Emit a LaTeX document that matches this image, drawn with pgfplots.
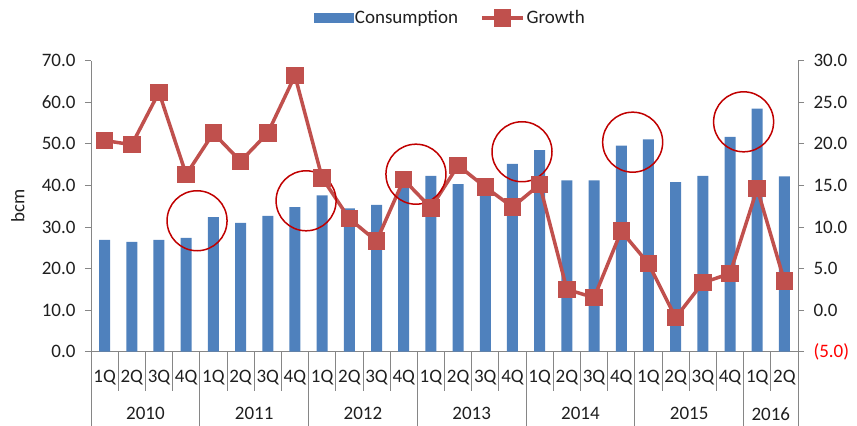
\documentclass[border=0pt]{standalone}
\usepackage{pgfplots}
\pgfplotsset{compat=1.18}
\usepackage{fontspec}
\setmainfont{Carlito}
\definecolor{barblue}{HTML}{4F81BD}
\definecolor{linered}{HTML}{C0504D}
\definecolor{circred}{HTML}{C00000}
\definecolor{axgray}{HTML}{868686}
\definecolor{txt}{HTML}{1F1F1F}
\newcommand\lbl{\fontsize{19bp}{21bp}\selectfont}
\pgfplotsset{
  growthlegend/.style={legend image code/.code={%
    \draw[mark repeat=2,mark phase=2,##1] plot coordinates {(0bp,0bp) (20.5bp,0bp) (41bp,0bp)};}},
  common/.style={
    at={(0bp,0bp)}, anchor=south west,
    scale only axis, width=707bp, height=291bp,
    xmin=-0.5, xmax=25.5,
    axis line style={axgray, line width=0.8bp, -},
    tick align=outside, major tick length=6bp,
    tick label style={font=\lbl, text=txt},
    label style={font=\lbl, text=txt},
  }
}

\begin{document}
\begin{tikzpicture}
\useasboundingbox (-91bp,-74.3bp) rectangle (766bp,351.7bp);

% consumption, left axis
\begin{axis}[
  common,
  clip=false,
  ymin=0, ymax=70,
  axis x line*=bottom, axis y line*=left,
  ybar, bar width=11bp,
  xtick={0,...,25},
  xticklabels={1Q,2Q,3Q,4Q,1Q,2Q,3Q,4Q,1Q,2Q,3Q,4Q,1Q,2Q,3Q,4Q,1Q,2Q,3Q,4Q,1Q,2Q,3Q,4Q,1Q,2Q},
  xtick style={draw=none},
  xticklabel style={anchor=center, yshift=-20bp},
  ytick={0,10,...,70},
  yticklabels={0.0,10.0,20.0,30.0,40.0,50.0,60.0,70.0},
  ytick style={axgray, line width=0.8bp},
  yticklabel style={xshift=-6bp},
  ylabel={bcm},
  every axis y label/.style={at={(axis description cs:-0.1033,0.5)}, rotate=90,
    anchor=center, font=\lbl, text=txt},
]
\addplot[fill=barblue, draw=none] coordinates {
  (0,26.9) (1,26.4) (2,26.9) (3,27.4) (4,32.4) (5,31.0) (6,32.7) (7,34.8)
  (8,37.6) (9,34.5) (10,35.3) (11,40.0) (12,42.3) (13,40.3) (14,40.2) (15,45.2)
  (16,48.5) (17,41.2) (18,41.2) (19,49.6) (20,51.1) (21,40.8) (22,42.3) (23,51.7)
  (24,58.5) (25,42.2)};

\pgfplotsinvokeforeach{0.5,1.5,2.5,4.5,5.5,6.5,8.5,9.5,10.5,12.5,13.5,14.5,16.5,17.5,18.5,20.5,21.5,22.5,24.5}{
  \draw[axgray, line width=0.8bp] (axis cs:#1,0) -- ++(0bp,-39bp);}
\pgfplotsinvokeforeach{-0.5,3.5,7.5,11.5,15.5,19.5,23.5,25.5}{
  \draw[axgray, line width=0.8bp] (axis cs:#1,0) -- ++(0bp,-74.3bp);}

\node[font=\lbl, text=txt, yshift=-62bp] at (axis cs:1.5,0) {2010};
\node[font=\lbl, text=txt, yshift=-62bp] at (axis cs:5.5,0) {2011};
\node[font=\lbl, text=txt, yshift=-62bp] at (axis cs:9.5,0) {2012};
\node[font=\lbl, text=txt, yshift=-62bp] at (axis cs:13.5,0) {2013};
\node[font=\lbl, text=txt, yshift=-62bp] at (axis cs:17.5,0) {2014};
\node[font=\lbl, text=txt, yshift=-62bp] at (axis cs:21.5,0) {2015};
\node[font=\lbl, text=txt, yshift=-62bp] at (axis cs:24.5,0) {2016};
\end{axis}

% growth, right axis
\begin{axis}[
  common,
  ymin=-5, ymax=30,
  hide x axis,
  axis y line*=right,
  ytick={-5,0,...,30},
  yticklabels={\textcolor{red}{(5.0)},0.0,5.0,10.0,15.0,20.0,25.0,30.0},
  ytick style={axgray, line width=0.8bp},
  yticklabel style={xshift=6bp},
  legend columns=2,
  legend style={draw=none, fill=none, at={(0.508,1.147)}, anchor=center,
    font=\lbl, text=txt, /tikz/every even column/.append style={column sep=20bp}},
]
\addlegendimage{legend image code/.code={\fill[barblue] (0bp,-4.5bp) rectangle (39bp,4.5bp);}}
\addlegendentry{Consumption}
\addplot[linered, line width=3.5bp, mark=square*, mark size=7bp, mark options={solid}, growthlegend] coordinates {
  (0,20.4) (1,19.9) (2,26.2) (3,16.3) (4,21.3) (5,17.9) (6,21.3) (7,28.2)
  (8,15.9) (9,11.0) (10,8.3) (11,15.7) (12,12.3) (13,17.4) (14,14.8) (15,12.4)
  (16,15.1) (17,2.5) (18,1.5) (19,9.5) (20,5.6) (21,-0.9) (22,3.3) (23,4.4)
  (24,14.6) (25,3.5)};
\addlegendentry{Growth}

% highlight circles
\draw[circred, line width=1.5bp] (axis cs:3.4,10.75) circle[radius=30bp];
\draw[circred, line width=1.5bp] (axis cs:7.41,13.15) circle[radius=30bp];
\draw[circred, line width=1.5bp] (axis cs:11.45,16.35) circle[radius=30bp];
\draw[circred, line width=1.5bp] (axis cs:15.35,19.05) circle[radius=30bp];
\draw[circred, line width=1.5bp] (axis cs:19.42,20.2) circle[radius=30bp];
\draw[circred, line width=1.5bp] (axis cs:23.5,22.65) circle[radius=30bp];
\end{axis}
\end{tikzpicture}
\end{document}
